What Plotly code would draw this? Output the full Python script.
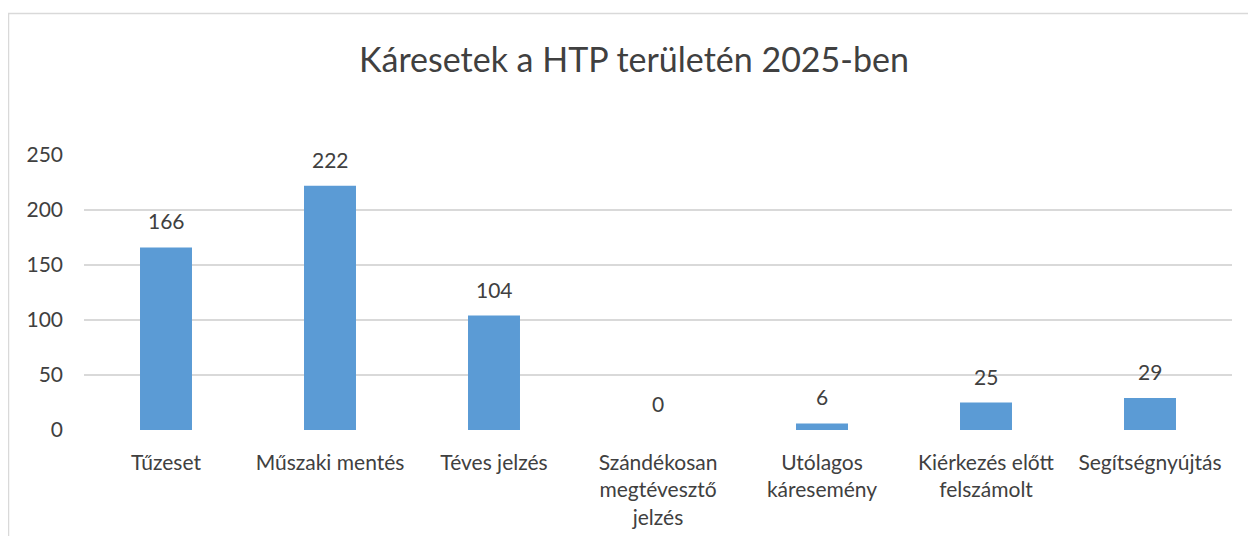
import plotly.graph_objects as go

categories = ["Tűzeset", "Műszaki mentés", "Téves jelzés",
              "Szándékosan<br>megtévesztő<br>jelzés", "Utólagos<br>káresemény",
              "Kiérkezés előtt<br>felszámolt", "Segítségnyújtás"]
values = [166, 222, 104, 0, 6, 25, 29]
y_ticks = [0, 50, 100, 150, 200, 250]
title_text = "Káresetek a HTP területén 2025-ben"

# page body has an 8px default margin -> figure origin is at (8, 8) on screen
OFF = 8
W, H = 1256 - OFF, 536 - OFF
L, R, T, B = 84 - OFF, W - (1232 - OFF), 155 - OFF, H - (430 - OFF)
pw, ph = W - L - R, H - T - B

FONT = "Lato"
TXT = "#404040"

fig = go.Figure()
fig.add_trace(go.Bar(x=categories, y=values, marker_color="#5B9BD5",
                     marker_line_width=0, hoverinfo="x+y"))

for c, v in zip(categories, values):
    fig.add_annotation(x=c, y=v, text=str(v), showarrow=False, yanchor="bottom",
                       yshift=12, font=dict(family=FONT, size=21, color=TXT))

def px_x(p):
    return (p - OFF - L) / pw

def px_y(p):
    return (H - B - (p - OFF)) / ph

fig.add_shape(type="rect", xref="paper", yref="paper",
              x0=px_x(8.5), x1=px_x(1253.5), y0=px_y(560), y1=px_y(13.5),
              line=dict(color="#d9d9d9", width=1.5), fillcolor="rgba(0,0,0,0)", layer="below")

fig.update_layout(
    width=W, height=H,
    margin=dict(l=L, r=R, t=T, b=B, autoexpand=False),
    paper_bgcolor="white", plot_bgcolor="white",
    bargap=0.683, showlegend=False,
    title=dict(text=title_text, x=(634 - OFF) / W, xref="container", xanchor="center",
               y=1 - (60 - OFF) / H, yref="container", yanchor="middle",
               font=dict(family=FONT, size=34, color=TXT)),
    font=dict(family=FONT, color=TXT),
)
fig.update_xaxes(showgrid=False, showline=False, ticks="", zeroline=False,
                 tickfont=dict(family=FONT, size=21, color=TXT), ticklabelstandoff=18)
fig.update_yaxes(range=[0, 250], tickvals=y_ticks, showgrid=True, gridcolor="#d9d9d9",
                 gridwidth=1.5, zeroline=False, showline=False, ticks="",
                 tickfont=dict(family=FONT, size=21, color=TXT), ticklabelstandoff=20)

fig.write_html("out.html")
